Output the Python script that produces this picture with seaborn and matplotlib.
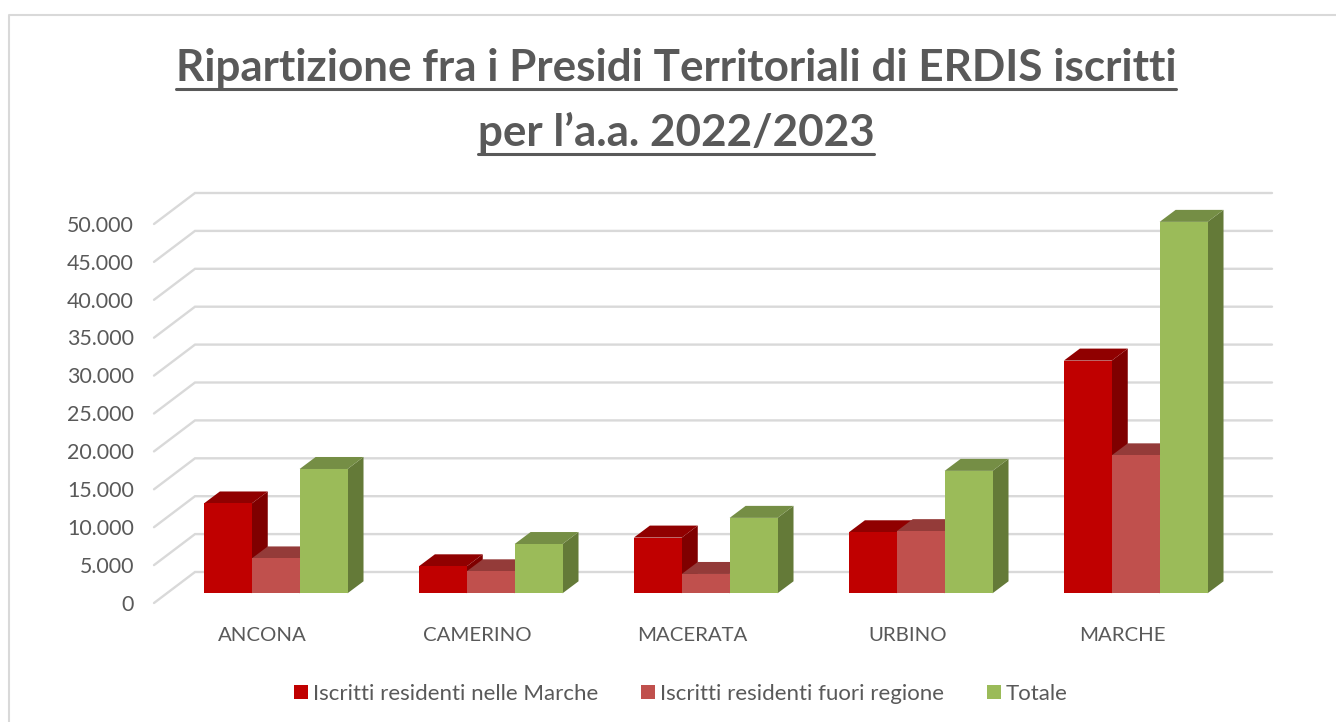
#!/usr/bin/env python3
"""Iscritti ERDIS per presidio territoriale, colonne 3D finte con seaborn."""

import pandas as pd
import matplotlib
matplotlib.use("Agg")
import matplotlib.pyplot as plt
from matplotlib.lines import Line2D
from matplotlib.patches import Polygon
from matplotlib.transforms import Affine2D
import seaborn as sns

presidi = ["ANCONA", "CAMERINO", "MACERATA", "URBINO", "MARCHE"]
residenti_marche = [11850, 3560, 7350, 8050, 30700]
residenti_fuori = [4600, 2900, 2550, 8200, 18200]
totale = [16400, 6500, 9950, 16150, 49000]
serie = ["Iscritti residenti nelle Marche", "Iscritti residenti fuori regione", "Totale"]
y_ticks = [0, 5000, 10000, 15000, 20000, 25000, 30000, 35000, 40000, 45000, 50000]
titolo = ["Ripartizione fra i Presidi Territoriali di ERDIS iscritti", "per l’a.a. 2022/2023"]

colori = ["#C00000", "#C0504D", "#9BBB59"]
colori_top = ["#900000", "#943B39", "#758E45"]
colori_lato = ["#7F0000", "#7F0000", "#647A38"]
GREY = "#595959"

W, H = 1336, 722
PX_PER_CAT = 215.0
PX_PER_UNIT = 379.0 / 50000


def main():
    sns.set_theme(style="white")
    plt.rcParams["font.family"] = ["Lato", "DejaVu Sans"]

    df = pd.DataFrame({
        "presidio": presidi * 3,
        "serie": [s for s in serie for _ in presidi],
        "iscritti": residenti_marche + residenti_fuori + totale,
    })

    fig = plt.figure(figsize=(W / 100, H / 100), dpi=100)
    left, right, top, bottom = 154, 1272, 193, 603
    ax = fig.add_axes([left / W, (H - bottom) / H, (right - left) / W, (bottom - top) / H])

    sns.barplot(data=df, x="presidio", y="iscritti", hue="serie", order=presidi, hue_order=serie,
                palette=colori, saturation=1, width=0.668, gap=0, errorbar=None, ax=ax, zorder=5,
                linewidth=0)

    centro0 = 275.7
    base = 593.3
    ax.set_xlim((left - centro0) / PX_PER_CAT, (right - centro0) / PX_PER_CAT)
    ax.set_ylim((base - bottom) / PX_PER_UNIT, (base - top) / PX_PER_UNIT)

    # griglia: parete di fondo + diagonale sul pavimento
    x0, x1 = ax.get_xlim()
    dx_grid = 41 / PX_PER_CAT
    for v in y_ticks:
        y_front = v - 9.7 / PX_PER_UNIT
        y_back = v + 21.3 / PX_PER_UNIT
        ax.plot([x0, x0 + dx_grid, x1], [y_front, y_back, y_back], color="#D9D9D9", lw=1.7,
                clip_on=False, zorder=1, solid_joinstyle="miter")

    # profondita delle barre
    dx = 16 / PX_PER_CAT
    dy = 12 / PX_PER_UNIT
    n = len(presidi)
    barre = [p for p in ax.patches if p.get_height() > 0][:3 * n]
    barre_info = []
    for i, p in enumerate(barre):
        barre_info.append((p, i // n))
    barre_info.sort(key=lambda t: t[0].get_x())
    z = 5
    for p, s in barre_info:
        xa, w, h = p.get_x(), p.get_width(), p.get_height()
        xb = xa + w
        ax.add_patch(Polygon([(xb, 0), (xb + dx, dy), (xb + dx, h + dy), (xb, h)],
                             facecolor=colori_lato[s], edgecolor="none", zorder=z))
        ax.add_patch(Polygon([(xa, h), (xa + dx, h + dy), (xb + dx, h + dy), (xb, h)],
                             facecolor=colori_top[s], edgecolor="none", zorder=z + 0.1))
        p.set_zorder(z + 0.2)
        z += 1

    ax.set_yticks(y_ticks)
    ax.set_yticklabels([f"{v:,}".replace(",", ".") for v in y_ticks])
    ax.set_xticks(range(n))
    ax.set_xticklabels(presidi)
    ax.set_xlabel("")
    ax.set_ylabel("")
    ax.tick_params(axis="y", length=0, pad=14.4, labelsize=15.4, labelcolor=GREY)
    ax.tick_params(axis="x", length=0, pad=17.6, labelsize=14.7, labelcolor=GREY)
    for lab in ax.get_yticklabels():
        lab.set_transform(lab.get_transform() + Affine2D().translate(0, -9.5))
    for lab in ax.get_xticklabels():
        lab.set_transform(lab.get_transform() + Affine2D().translate(-13, 0))
    sns.despine(ax=ax, left=True, bottom=True)

    leg = ax.get_legend()
    handles = leg.legend_handles
    for handle in handles:
        handle.set_edgecolor("none")
    ax.legend(handles, serie, loc="center", bbox_to_anchor=(681 / W, (H - 694) / H),
              bbox_transform=fig.transFigure, ncol=3, frameon=False, fontsize=16,
              labelcolor=GREY, handlelength=0.63, handleheight=0.63, handletextpad=0.2,
              columnspacing=1.96, borderpad=0)

    # cornice del grafico
    fig.add_artist(Line2D([9 / W, 9 / W, 1], [0, (H - 15) / H, (H - 15) / H], color="#D9D9D9", lw=1.5))

    # titolo sottolineato
    fig.canvas.draw()
    renderer = fig.canvas.get_renderer()
    for riga, base_y in zip(titolo, [81, 146]):
        t = fig.text(676 / W, (H - base_y) / H, riga, ha="center", va="baseline", fontsize=31.7,
                     fontweight="bold", color=GREY)
        bb = t.get_window_extent(renderer)
        yu = (H - base_y - 7.5) / H
        fig.add_artist(Line2D([bb.x0 / W, bb.x1 / W], [yu, yu], color=GREY, lw=2.2))

    fig.savefig("out.png", dpi=100)


if __name__ == "__main__":
    main()
